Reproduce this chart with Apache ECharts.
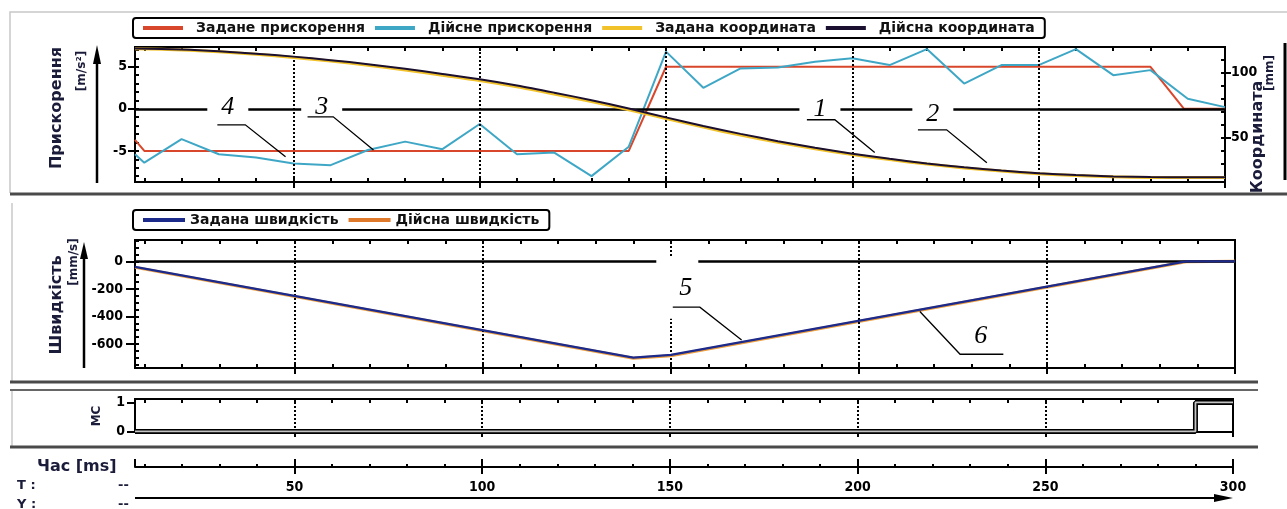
<!DOCTYPE html>
<html>
<head>
<meta charset="utf-8">
<title>Прискорення, координата, швидкість</title>
<script src="https://cdn.jsdelivr.net/npm/echarts@6/dist/echarts.min.js"></script>
<style>
  html, body { margin: 0; padding: 0; background: #fff; }
  #chart { width: 1287px; height: 509px; }
</style>
</head>
<body>
<div id="chart"></div>
<script>
// ---- data (time in ms) ----
const tMin = 7.5;
const tMax = 300;

const accelSetTime = [7.5, 10, 140, 150, 280, 289, 300];
const accelSetValues = [-3.7, -5, -5, 5, 5, 0, 0];

const accelActualTime = [7.5, 10, 20, 30, 40, 50, 60, 70, 80, 90, 100, 110, 120, 130, 140, 150,
  160, 170, 180, 190, 200, 210, 220, 230, 240, 250, 260, 270, 280, 290, 300];
const accelActualValues = [-5.4, -6.4, -3.6, -5.4, -5.8, -6.5, -6.7, -4.9, -3.9, -4.8, -1.8, -5.4, -5.2, -8.0, -4.5, 6.8,
  2.5, 4.8, 4.9, 5.6, 6.0, 5.2, 7.1, 3.0, 5.2, 5.2, 7.1, 4.0, 4.6, 1.2, 0.2];

const coordTime = [7.5, 20, 30, 40, 50, 60, 70, 80, 90, 100, 110, 120, 130, 140, 150,
  160, 170, 180, 190, 200, 210, 220, 230, 240, 250, 260, 270, 280, 290, 300];
const coordSetValues = [118.3, 117.3, 115.9, 114.0, 111.6, 108.8, 105.6, 101.9, 97.9, 93.8, 89.0, 83.5, 77.7, 71.4, 64.6,
  58.0, 51.9, 46.4, 41.4, 36.9, 33.0, 29.6, 26.6, 24.2, 22.2, 20.8, 19.8, 19.3, 19.2, 19.2];
const coordActualValues = [118.5, 117.6, 116.3, 114.5, 112.2, 109.5, 106.4, 102.8, 98.9, 94.8, 90.0, 84.5, 78.7, 72.3, 65.5,
  58.9, 52.8, 47.2, 42.1, 37.6, 33.6, 30.1, 27.1, 24.6, 22.6, 21.1, 20.1, 19.6, 19.5, 19.5];

const velocityTime = [7.5, 140, 150, 287, 300];
const velocitySetValues = [-40, -700, -680, 0, 0];
const velocityActualValues = [-44, -704, -686, -3, 0];

const mcTime = [7.5, 290, 290, 300];
const mcValues = [0, 0, 1, 1];

// ticks
const minorTimeTicks = [10, 20, 30, 40, 50, 60, 70, 80, 90, 100, 110, 120, 130, 140, 150,
  160, 170, 180, 190, 200, 210, 220, 230, 240, 250, 260, 270, 280, 290];
const majorTimeTicks = [50, 100, 150, 200, 250, 300];
const gridTimes = [50, 100, 150, 200, 250];
const accelTickLabels = [-5, 0, 5];
const accelMinorTicks = [-8, -7, -6, -5, -4, -3, -2, -1, 0, 1, 2, 3, 4, 5, 6, 7];
const coordTickLabels = [50, 100];
const coordMinorTicks = [20, 30, 40, 50, 60, 70, 80, 90, 100, 110];
const velocityTickLabels = [-600, -400, -200, 0];
const velocityMinorTicks = [-750, -700, -650, -600, -550, -500, -450, -400, -350, -300, -250, -200,
  -150, -100, -50, 0, 50, 100, 150];
const mcTickLabels = [0, 1];

// numbered callouts (data units)
const accelCalloutNames = ['4', '3', '1', '2'];
const accelCalloutAt = [[32.4, 0.2], [57.6, 0.25], [191.3, -0.1], [221.6, -0.6]];
const accelLeaders = [
  [[29.6, -1.9], [37.1, -1.9], [47.9, -5.7]],
  [[53.8, -0.95], [60.7, -0.95], [71.5, -4.9]],
  [[187.8, -1.3], [195.3, -1.3], [206.0, -5.2]],
  [[217.6, -2.5], [225.3, -2.5], [236.1, -6.4]]
];
const velocityCalloutNames = ['5', '6'];
const velocityCalloutAt = [[151.7, -196], [232.4, -545]];
const velocityLeaders = [
  [[150.5, -333], [157.7, -333], [168.8, -571]],
  [[216.2, -365], [226.9, -675], [238.4, -675]]
];

// ---- styles ----
const INK = '#000';
const RED = '#d8472b';
const CYAN = '#3fa7c6';
const GOLD = '#f2c22a';
const DARK = '#1c1030';
const NAVY = '#1c2a8c';
const ORANGE = '#eea040';
const TITLE = '#1b1b3a';
const LABEL_FONT = '"DejaVu Sans Condensed", "DejaVu Sans", sans-serif';
const TEXT_FONT = '"DejaVu Sans", sans-serif';
const CALLOUT_FONT = '"Liberation Serif", "DejaVu Serif", serif';

const pairs = (xs, ys) => xs.map((x, i) => [x, ys[i]]);

function tickAxis(base, values, len, inside) {
  return Object.assign({
    type: 'value',
    axisLine: { show: false, onZero: false },
    axisTick: { show: true, inside: inside, length: len, customValues: values,
      lineStyle: { color: INK, width: 2 } },
    axisLabel: { show: false },
    splitLine: { show: false }
  }, base);
}

function tickLabels(values, margin) {
  return { show: true, customValues: values, margin: margin, color: INK,
    fontFamily: LABEL_FONT, fontWeight: 'bold', fontSize: 14 };
}

function xOf(grid, position) {
  return { gridIndex: grid, position: position, min: tMin, max: tMax };
}

function guideLines(withZero) {
  const data = gridTimes.map(t => ({ xAxis: t, lineStyle: { type: [2, 2], width: 2, color: INK } }));
  if (withZero) data.unshift({ yAxis: 0, lineStyle: { type: 'solid', width: 2.5, color: INK } });
  return { silent: true, symbol: ['none', 'none'], label: { show: false }, data: data };
}

function callouts(names, at, xi, yi, special) {
  return {
    type: 'scatter', xAxisIndex: xi, yAxisIndex: yi, z: 10, silent: true,
    symbolSize: 1, itemStyle: { color: 'rgba(255,255,255,0)', opacity: 1 },
    label: {
      show: true, position: 'inside', formatter: '{b}',
      fontFamily: CALLOUT_FONT, fontStyle: 'italic', fontSize: 26, color: INK,
      backgroundColor: '#fff', padding: [0, 14]
    },
    data: names.map((n, i) => {
      const d = { name: n, value: at[i] };
      if (special && special[n]) d.label = special[n];
      return d;
    })
  };
}

function leaders(paths, xi, yi) {
  return {
    type: 'lines', coordinateSystem: 'cartesian2d', xAxisIndex: xi, yAxisIndex: yi,
    polyline: true, z: 11, silent: true,
    lineStyle: { color: INK, width: 1.3, opacity: 1 },
    data: paths.map(p => ({ coords: p }))
  };
}

function legendBox(top, itemWidth, gapLeft, names) {
  return {
    left: 133, top: top, orient: 'horizontal',
    padding: [2, 10, 2, 10], borderColor: INK, borderWidth: 2, borderRadius: 3,
    itemGap: 10, itemWidth: itemWidth, itemHeight: 4, icon: 'rect',
    selectedMode: false,
    textStyle: { fontFamily: TEXT_FONT, fontWeight: 'bold', fontSize: 14, color: '#111',
      lineHeight: 16, padding: [0, 0, 0, gapLeft] },
    data: names
  };
}

const arrowLine = (x1, y1, x2, y2, w) =>
  ({ type: 'line', shape: { x1, y1, x2, y2 }, style: { stroke: INK, lineWidth: w } });
const arrowHead = pts => ({ type: 'polygon', shape: { points: pts }, style: { fill: INK } });
const frameLine = (x1, y1, x2, y2, color, w) =>
  ({ type: 'line', shape: { x1, y1, x2, y2 }, style: { stroke: color, lineWidth: w } });
const title = (text, x, y, size, rotate, align) => ({
  type: 'text', x: x, y: y, rotation: rotate ? Math.PI / 2 : 0,
  style: { text: text, fill: TITLE, font: 'bold ' + size + 'px ' + TEXT_FONT,
    align: align || 'center', verticalAlign: 'middle' }
});

const graphicElements = [
  // panel frames
  { type: 'polyline', shape: { points: [[10, 193], [10, 12], [1287, 12]] },
    style: { stroke: '#c8c8c8', lineWidth: 1.5, fill: 'none' } },
  frameLine(10, 194, 1287, 194, '#4a4a4a', 3),
  frameLine(12, 203, 12, 381, '#c8c8c8', 1.5),
  frameLine(10, 382, 1258, 382, '#4a4a4a', 3),
  frameLine(10, 390, 1258, 390, '#666', 2),
  frameLine(12, 391, 12, 446, '#c8c8c8', 1.5),
  frameLine(10, 447, 1258, 447, '#4a4a4a', 3),
  // axis arrows
  arrowLine(97, 183, 97, 56, 2.5),
  arrowHead([[93, 64], [97, 45], [101, 64]]),
  arrowLine(84, 368, 84, 252, 2.5),
  arrowHead([[80, 259], [84, 242], [88, 259]]),
  arrowLine(1285, 43, 1285, 180, 3),
  arrowLine(135, 498, 1220, 498, 2),
  arrowHead([[1214, 494], [1233, 498], [1214, 502]]),
  // axis titles
  title('Прискорення', 57, 108, 16, true),
  title('[m/s²]', 82, 71, 12, true),
  title('Швидкість', 57, 305, 16, true),
  title('[mm/s]', 74, 262, 12, true),
  title('Координата', 1258, 137, 16, true),
  title('[mm]', 1270, 73, 12, true),
  title('МС', 97, 416, 12, true),
  title('Час [ms]', 37, 467, 16, false, 'left'),
  title('T :', 17, 486, 13, false, 'left'),
  title('Y :', 17, 505, 13, false, 'left'),
  title('--', 118, 486, 13, false, 'left'),
  title('--', 118, 505, 13, false, 'left')
];

const option = {
  animation: false,
  backgroundColor: '#fff',
  grid: [
    { left: 135, top: 47, width: 1090, height: 135, show: true, borderColor: INK, borderWidth: 2, outerBoundsMode: 'none' },
    { left: 135, top: 240, width: 1100, height: 128, show: true, borderColor: INK, borderWidth: 2, outerBoundsMode: 'none' },
    { left: 135, top: 399, width: 1098, height: 33, show: true, borderColor: INK, borderWidth: 2, outerBoundsMode: 'none' },
    { left: 135, top: 440, width: 1098, height: 27, show: false, outerBoundsMode: 'none' }
  ],
  legend: [
    legendBox(18, 40, 8, ['Задане прискорення', 'Дійсне прискорення', 'Задана координата', 'Дійсна координата']),
    legendBox(210, 42, 0, ['Задана швидкість', 'Дійсна швидкість'])
  ],
  xAxis: [
    tickAxis(xOf(0, 'bottom'), minorTimeTicks, 4, true),
    tickAxis(xOf(0, 'bottom'), majorTimeTicks, 6, false),
    tickAxis(xOf(0, 'top'), minorTimeTicks, 4, true),
    tickAxis(xOf(1, 'bottom'), minorTimeTicks, 4, true),
    tickAxis(xOf(1, 'bottom'), majorTimeTicks, 6, false),
    tickAxis(xOf(1, 'top'), minorTimeTicks, 4, true),
    tickAxis(xOf(2, 'bottom'), minorTimeTicks, 3, true),
    tickAxis(xOf(2, 'bottom'), majorTimeTicks, 5, false),
    tickAxis(xOf(2, 'top'), minorTimeTicks, 4, true),
    Object.assign(tickAxis(xOf(3, 'bottom'), minorTimeTicks, 3, true),
      { axisLine: { show: true, onZero: false, lineStyle: { color: INK, width: 2 } } }),
    tickAxis(xOf(3, 'bottom'), [tMin].concat(majorTimeTicks), 8, true),
    Object.assign(tickAxis(xOf(3, 'bottom'), majorTimeTicks, 7, false),
      { axisLabel: tickLabels(majorTimeTicks, 13) })
  ],
  yAxis: [
    Object.assign(tickAxis({ gridIndex: 0, position: 'left', min: -8.7, max: 7.35 }, accelTickLabels, 7, false),
      { axisLabel: tickLabels(accelTickLabels, 8) }),
    tickAxis({ gridIndex: 0, position: 'left', min: -8.7, max: 7.35 }, accelMinorTicks, 4, true),
    Object.assign(tickAxis({ gridIndex: 0, position: 'right', min: 15.8, max: 119.6 }, coordTickLabels, 6, false),
      { axisLabel: tickLabels(coordTickLabels, 6) }),
    tickAxis({ gridIndex: 0, position: 'right', min: 15.8, max: 119.6 }, coordMinorTicks, 4, true),
    Object.assign(tickAxis({ gridIndex: 1, position: 'left', min: -775, max: 155 }, velocityTickLabels, 9, false),
      { axisLabel: tickLabels(velocityTickLabels, 12) }),
    tickAxis({ gridIndex: 1, position: 'left', min: -775, max: 155 }, velocityMinorTicks, 4, true),
    Object.assign(tickAxis({ gridIndex: 2, position: 'left', min: -0.02, max: 1.12 }, mcTickLabels, 8, false),
      { axisLabel: tickLabels(mcTickLabels, 10) }),
    { type: 'value', gridIndex: 3, show: false, min: 0, max: 1 }
  ],
  series: [
    {
      name: 'Задане прискорення', type: 'line', xAxisIndex: 0, yAxisIndex: 0,
      data: pairs(accelSetTime, accelSetValues), symbol: 'none', z: 3,
      lineStyle: { color: RED, width: 2 }, itemStyle: { color: RED },
      markLine: guideLines(true)
    },
    {
      name: 'Дійсне прискорення', type: 'line', xAxisIndex: 0, yAxisIndex: 0,
      data: pairs(accelActualTime, accelActualValues), symbol: 'none', z: 4,
      lineStyle: { color: CYAN, width: 2 }, itemStyle: { color: CYAN }
    },
    {
      name: 'Задана координата', type: 'line', xAxisIndex: 0, yAxisIndex: 2,
      data: pairs(coordTime, coordSetValues), symbol: 'none', smooth: 0.3, z: 5,
      lineStyle: { color: GOLD, width: 3 }, itemStyle: { color: GOLD }
    },
    {
      name: 'Дійсна координата', type: 'line', xAxisIndex: 0, yAxisIndex: 2,
      data: pairs(coordTime, coordActualValues), symbol: 'none', smooth: 0.3, z: 6,
      lineStyle: { color: DARK, width: 2 }, itemStyle: { color: DARK }
    },
    {
      name: 'Дійсна швидкість', type: 'line', xAxisIndex: 3, yAxisIndex: 4,
      data: pairs(velocityTime, velocityActualValues), symbol: 'none', z: 4,
      lineStyle: { color: ORANGE, width: 3 }, itemStyle: { color: '#e07a2a' }
    },
    {
      name: 'Задана швидкість', type: 'line', xAxisIndex: 3, yAxisIndex: 4,
      data: pairs(velocityTime, velocitySetValues), symbol: 'none', z: 5,
      lineStyle: { color: NAVY, width: 2.4 }, itemStyle: { color: NAVY },
      markLine: guideLines(true)
    },
    {
      name: 'МС', type: 'line', xAxisIndex: 6, yAxisIndex: 6,
      data: pairs(mcTime, mcValues), symbol: 'none', z: 4,
      lineStyle: { color: INK, width: 5 }, itemStyle: { color: INK },
      markLine: guideLines(false)
    },
    {
      name: 'МС-fill', type: 'line', xAxisIndex: 6, yAxisIndex: 6,
      data: pairs(mcTime, mcValues), symbol: 'none', z: 5,
      lineStyle: { color: '#c4c4c4', width: 1.8 }, itemStyle: { color: '#c4c4c4' }
    },
    callouts(accelCalloutNames, accelCalloutAt, 0, 0),
    leaders(accelLeaders, 0, 0),
    callouts(velocityCalloutNames, velocityCalloutAt, 3, 4,
      { '5': { padding: [19, 6, 16, 23] }, '6': { backgroundColor: 'transparent', padding: 0 } }),
    leaders(velocityLeaders, 3, 4)
  ],
  graphic: { elements: graphicElements }
};

const chart = echarts.init(document.getElementById('chart'), null, { renderer: 'canvas' });
chart.setOption(option);
</script>
</body>
</html>
